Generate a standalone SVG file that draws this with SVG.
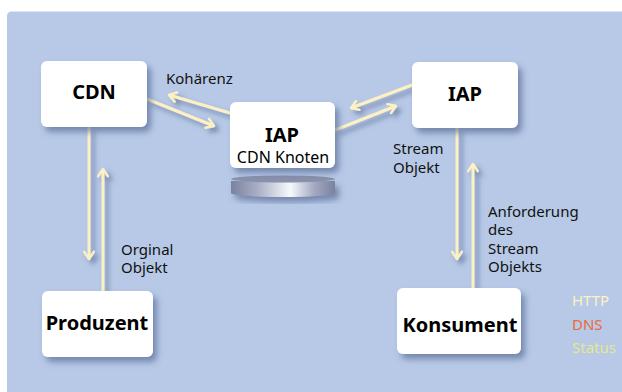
<svg xmlns="http://www.w3.org/2000/svg" width="622" height="392" viewBox="0 0 622 392">
  <defs>
    <style>
      .node { fill: #ffffff; }
      .title { font-family: "Noto Sans", "Open Sans", sans-serif; font-weight: bold; font-size: 20px; fill: #000000; text-anchor: middle; }
      .sub { font-family: "Noto Sans", "Open Sans", sans-serif; font-size: 16px; fill: #000000; text-anchor: middle; }
      .lbl { font-family: "Noto Sans", "Open Sans", sans-serif; font-size: 15px; fill: #111111; }
      .leg { font-family: "Noto Sans", "Open Sans", sans-serif; font-size: 15px; }
      .conn { stroke: #fdf1c4; stroke-width: 3; fill: none; marker-end: url(#chev); }
    </style>
    <filter id="nshadow" x="-20%" y="-20%" width="150%" height="160%">
      <feDropShadow dx="4" dy="5" stdDeviation="3" flood-color="#4a5a8a" flood-opacity="0.6"/>
    </filter>
    <filter id="ashadow" x="-30%" y="-30%" width="160%" height="160%">
      <feDropShadow dx="4" dy="4" stdDeviation="2.5" flood-color="#4a5a8a" flood-opacity="0.6"/>
    </filter>
    <marker id="chev" viewBox="0 0 10 10" refX="8.5" refY="5" markerWidth="4" markerHeight="4" orient="auto" markerUnits="strokeWidth">
      <path d="M2.5,1 L8.5,5 L2.5,9" fill="none" stroke="#fdf1c4" stroke-width="2" stroke-linecap="round" stroke-linejoin="round"/>
    </marker>
    <linearGradient id="cyl" x1="0" y1="0" x2="1" y2="0">
      <stop offset="0" stop-color="#7a819e"/>
      <stop offset="0.25" stop-color="#a8aec4"/>
      <stop offset="0.57" stop-color="#f6f9fd"/>
      <stop offset="0.8" stop-color="#a3a9c0"/>
      <stop offset="1" stop-color="#7a819e"/>
    </linearGradient>
  </defs>

  <rect x="0" y="0" width="622" height="392" fill="#ffffff"/>
  <path d="M7,392 L7,16 Q7,11.5 12,11.5 L622,11.5 L622,392 Z" fill="#b7c9e6"/>

  <g id="connectors" filter="url(#ashadow)">
    <line class="conn" x1="147" y1="99" x2="214" y2="126"/>
    <line class="conn" x1="230" y1="113" x2="169" y2="95"/>
    <line class="conn" x1="412" y1="85" x2="351" y2="108"/>
    <line class="conn" x1="335" y1="130" x2="396" y2="106"/>
    <line class="conn" x1="89" y1="127" x2="89" y2="259"/>
    <line class="conn" x1="103" y1="291" x2="103" y2="169"/>
    <line class="conn" x1="457" y1="128" x2="457" y2="259"/>
    <line class="conn" x1="473" y1="288" x2="473" y2="164"/>
  </g>

  <g id="node-cdn">
    <rect class="node" x="41" y="61" width="106" height="66" rx="6" filter="url(#nshadow)"/>
    <text class="title" x="94" y="99">CDN</text>
  </g>

  <g id="node-iap-center">
    <path d="M231,181 L231,193 A52,4 0 0 0 335,193 L335,181 Z" fill="url(#cyl)" filter="url(#nshadow)"/>
    <ellipse cx="283" cy="179" rx="52" ry="3.5" fill="#8a91ab"/>
    <rect class="node" x="230" y="102" width="105" height="66" rx="6" filter="url(#nshadow)"/>
    <text class="title" x="282" y="142">IAP</text>
    <text class="sub" x="283" y="163">CDN Knoten</text>
  </g>

  <g id="node-iap-right">
    <rect class="node" x="412" y="62" width="106" height="66" rx="6" filter="url(#nshadow)"/>
    <text class="title" x="465" y="101">IAP</text>
  </g>

  <g id="node-produzent">
    <rect class="node" x="42" y="291" width="111" height="66" rx="6" filter="url(#nshadow)"/>
    <text class="title" x="97" y="330">Produzent</text>
  </g>

  <g id="node-konsument">
    <rect class="node" x="397" y="288" width="124" height="66" rx="6" filter="url(#nshadow)"/>
    <text class="title" x="460" y="332">Konsument</text>
  </g>

  <g id="labels">
    <text class="lbl" x="166" y="84">Kohärenz</text>
    <text class="lbl" x="393" y="154">Stream</text>
    <text class="lbl" x="393" y="173">Objekt</text>
    <text class="lbl" x="121" y="255">Orginal</text>
    <text class="lbl" x="121" y="273">Objekt</text>
    <text class="lbl" x="488" y="217">Anforderung</text>
    <text class="lbl" x="488" y="235">des</text>
    <text class="lbl" x="488" y="254">Stream</text>
    <text class="lbl" x="488" y="272">Objekts</text>
  </g>

  <g id="legend">
    <text class="leg" x="572" y="306" fill="#fdf1c4">HTTP</text>
    <text class="leg" x="572" y="330" fill="#ec6a3c">DNS</text>
    <text class="leg" x="572" y="353" fill="#e3e88e">Status</text>
  </g>
</svg>
